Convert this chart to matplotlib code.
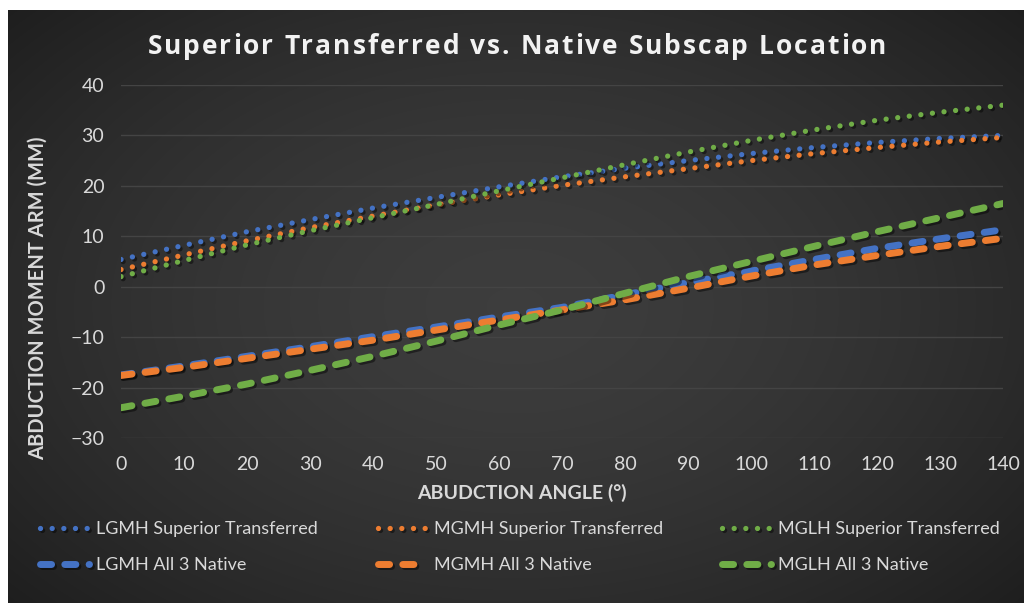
import numpy as np
import matplotlib
matplotlib.use("Agg")
import matplotlib.pyplot as plt
import matplotlib.patheffects as pe
from matplotlib.font_manager import FontProperties

plt.rcParams['font.family'] = ['Lato', 'DejaVu Sans']

# data
angles = [0, 10, 20, 30, 40, 50, 60, 70, 80, 90, 100, 110, 120, 130, 140]
lgmh_sup = [5.4, 8.2, 10.9, 13.3, 15.6, 17.7, 19.8, 21.8, 23.5, 25.0, 26.4, 27.6, 28.6, 29.4, 30.0]
mgmh_sup = [3.4, 6.3, 9.1, 11.7, 14.0, 16.2, 18.2, 20.1, 21.8, 23.4, 25.0, 26.4, 27.6, 28.7, 29.6]
mglh_sup = [2.0, 5.2, 8.3, 11.1, 13.7, 16.3, 19.0, 21.6, 24.2, 26.7, 29.0, 31.1, 33.0, 34.6, 36.0]
lgmh_nat = [-17.5, -15.7, -13.8, -11.9, -9.9, -8.0, -6.0, -4.1, -1.6, 0.8, 3.1, 5.4, 7.6, 9.5, 11.3]
mgmh_nat = [-17.6, -16.0, -14.2, -12.4, -10.6, -8.6, -6.6, -4.6, -2.6, -0.3, 2.1, 4.3, 6.2, 8.0, 9.6]
mglh_nat = [-24.0, -21.7, -19.3, -16.6, -13.8, -10.8, -7.6, -4.6, -1.3, 2.0, 5.0, 8.0, 10.9, 13.7, 16.5]

labels = ["LGMH Superior Transferred", "MGMH Superior Transferred", "MGLH Superior Transferred",
          "LGMH All 3 Native", "MGMH All 3 Native", "MGLH All 3 Native"]
title = "Superior Transferred vs. Native Subscap Location"
blue, orange, green = "#4472C4", "#ED7D31", "#70AD47"

fig = plt.figure(figsize=(10.24, 6.03), dpi=100)
fig.patch.set_facecolor("white")

# dark radial gradient background
bg = fig.add_axes([8 / 1024, 0, 1016 / 1024, 593 / 603])
yy, xx = np.mgrid[-1:1:300j, -1:1:500j]
r = np.sqrt((xx / 1.0) ** 2 + (yy / 1.1) ** 2)
shade = 0.24 - 0.12 * np.clip(r / 1.35, 0, 1) ** 1.6
bg.imshow(np.dstack([shade] * 3), aspect="auto", extent=[0, 1, 0, 1], interpolation="bicubic")
bg.set_axis_off()

ax = fig.add_axes([121 / 1024, 1 - 438 / 603, (1003 - 121) / 1024, (438 - 85) / 603])
ax.set_facecolor("none")
ax.set_xlim(0, 140)
ax.set_ylim(-30, 40)
ax.set_xticks(range(0, 141, 10))
ax.set_yticks(range(-30, 41, 10))
ax.grid(axis="y", color="#444444", lw=1.0)
ax.set_axisbelow(True)
for s in ax.spines.values():
    s.set_visible(False)
ax.tick_params(length=0, colors="#d9d9d9", labelsize=14, pad=12)
ax.tick_params(axis="x", pad=13)

shadow = [pe.SimpleLineShadow(offset=(1.5, -1.5), shadow_color="black", alpha=0.45), pe.Normal()]

handles = {}
for ys, c, lab in [(lgmh_sup, blue, labels[0]), (mgmh_sup, orange, labels[1]), (mglh_sup, green, labels[2])]:
    ln, = ax.plot(angles, ys, color=c, lw=3.8, dashes=(0.01, 2.2), dash_capstyle="round",
                  label=lab, path_effects=shadow)
    handles[lab] = ln
for ys, c, lab in [(lgmh_nat, blue, labels[3]), (mgmh_nat, orange, labels[4]), (mglh_nat, green, labels[5])]:
    ln, = ax.plot(angles, ys, color=c, lw=5.0, dashes=(1.6, 1.9), dash_capstyle="round",
                  label=lab, path_effects=shadow)
    handles[lab] = ln

# letter-spaced title, placed one character at a time
renderer = fig.canvas.get_renderer()
tprop = FontProperties(family=["Open Sans", "DejaVu Sans"], weight="bold", size=19)
widths = [renderer.get_text_width_height_descent(ch, tprop, ismath=False)[0] for ch in title]
spacing = 2.0
total = sum(widths) + spacing * (len(title) - 1)
x0 = 517 - total / 2
for ch, w in zip(title, widths):
    fig.text(x0 / 1024, 1 - 47 / 603, ch, ha="left", va="center", color="#f2f2f2",
             fontproperties=tprop)
    x0 += w + spacing

fig.text(522 / 1024, 1 - 493 / 603, "ABUDCTION ANGLE (°)", ha="center", va="center",
         color="#d9d9d9", fontsize=14, fontweight="bold")
fig.text(38 / 1024, 1 - 298 / 603, "ABDUCTION MOMENT ARM (MM)", ha="center", va="center",
         rotation=90, color="#d9d9d9", fontsize=14.5, fontweight="bold")

order = [labels[0], labels[3], labels[1], labels[4], labels[2], labels[5]]
leg = fig.legend([handles[k] for k in order], order, ncol=3, loc="upper left",
                 bbox_to_anchor=(24 / 1024, 1 - 505 / 603), frameon=False, fontsize=13,
                 labelcolor="#d9d9d9", handlelength=2.7, handletextpad=0.4,
                 columnspacing=3.3, labelspacing=1.1)

fig.savefig("out.png", dpi=100, facecolor="white")
